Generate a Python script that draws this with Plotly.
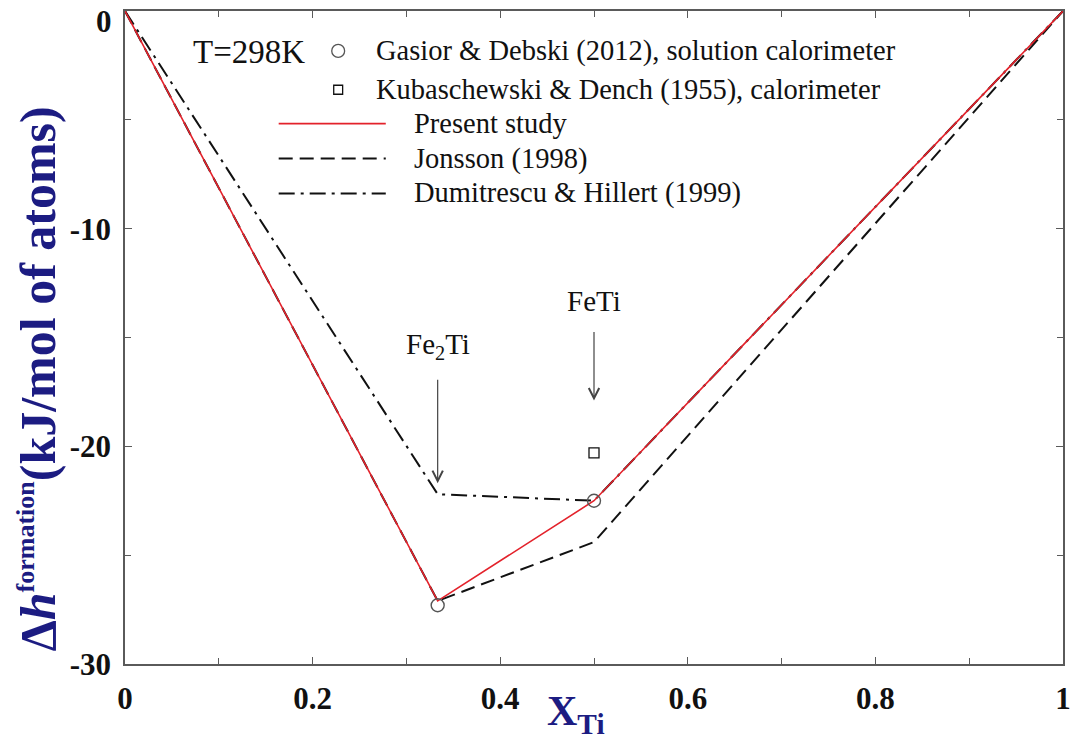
import plotly.graph_objects as go

# Enthalpy of formation of Fe-Ti alloys at 298 K
x_present = [0.0, 1/3, 0.5, 1.0]
h_present = [0.0, -27.1, -22.5, 0.0]

x_jonsson = [0.0, 1/3, 0.5, 1.0]
h_jonsson = [0.0, -27.1, -24.4, 0.0]

x_dh = [0.0, 1/3, 0.5, 1.0]
h_dh = [0.0, -22.2, -22.5, 0.0]

x_gasior = [1/3, 0.5]
h_gasior = [-27.3, -22.5]

x_kuba = [0.5]
h_kuba = [-20.3]

x_ticks = [0, 0.2, 0.4, 0.6, 0.8, 1.0]
x_ticktext = ["0", "0.2", "0.4", "0.6", "0.8", "1"]
y_ticks = [0, -10, -20, -30]
y_ticktext = ["0", "-10", "-20", "-30"]

compounds = ["Fe<sub>2</sub>Ti", "FeTi"]
compound_x = [1/3, 0.5]

SERIF = "Liberation Serif"
NAVY = "#1c1c82"
RED = "#e3222b"
INK = "#111111"
GREY = "#555555"
FRAME = "#5a5a5a"

# Layout geometry (pixels)
W, H = 1080, 742
ML, MR, MT, MB = 125, 9, 9, 78
PW, PH = W - ML - MR, H - MT - MB


def px(x):
    return (x - ML) / PW


def py(y):
    return (H - MB - y) / PH


fig = go.Figure()

fig.add_trace(go.Scatter(x=x_jonsson, y=h_jonsson, mode="lines",
                         line=dict(color=INK, width=2, dash="14px,7px"),
                         name="Jonsson (1998)"))
fig.add_trace(go.Scatter(x=x_dh, y=h_dh, mode="lines",
                         line=dict(color=INK, width=2, dash="16px,6px,3px,6px"),
                         name="Dumitrescu & Hillert (1999)"))
fig.add_trace(go.Scatter(x=x_present, y=h_present, mode="lines",
                         line=dict(color=RED, width=1.6),
                         name="Present study"))
fig.add_trace(go.Scatter(x=x_gasior, y=h_gasior, mode="markers",
                         marker=dict(symbol="circle-open", size=13,
                                     color=GREY, line=dict(width=1.4, color=GREY)),
                         name="Gasior & Debski (2012), solution calorimeter"))
fig.add_trace(go.Scatter(x=x_kuba, y=h_kuba, mode="markers",
                         marker=dict(symbol="square-open", size=10,
                                     color=INK, line=dict(width=1.3, color=INK)),
                         name="Kubaschewski & Dench (1955), calorimeter"))

annotations = []
shapes = []

# Phase labels, each with an arrow pointing at the compound composition
label_y = [-15.4, -13.3]
tip_y = [-21.7, -17.9]
for name, cx, ly, hy in zip(compounds, compound_x, label_y, tip_y):
    annotations.append(dict(x=cx, y=hy, ax=cx, ay=ly, xref="x", yref="y",
                            axref="x", ayref="y", text=name, showarrow=True,
                            arrowhead=5, arrowsize=1.7, arrowwidth=1.2,
                            arrowcolor="#444444", startstandoff=14,
                            font=dict(family=SERIF, size=29, color=INK)))

# Temperature label
annotations.append(dict(x=px(192), y=py(50), xref="paper", yref="paper",
                        text="T=298K", showarrow=False, xanchor="left",
                        yanchor="middle",
                        font=dict(family=SERIF, size=33, color=INK)))

# Key: symbol entries
key_rows = [
    ("circle", "Gasior & Debski (2012), solution calorimeter", 49, 13),
    ("square", "Kubaschewski & Dench (1955), calorimeter", 88, 9),
]
for kind, label, yy, sz in key_rows:
    r = sz / 2
    shapes.append(dict(type="circle" if kind == "circle" else "rect",
                       xref="paper", yref="paper",
                       x0=px(340 - r), x1=px(340 + r),
                       y0=py(yy + r), y1=py(yy - r),
                       line=dict(color=GREY if kind == "circle" else INK, width=1.3)))
    annotations.append(dict(x=px(376), y=py(yy), xref="paper", yref="paper",
                            text=label, showarrow=False, xanchor="left",
                            yanchor="middle",
                            font=dict(family=SERIF, size=28.5, color=INK)))

# Key: line entries
line_rows = [
    ("Present study", RED, 1.8, "solid", 122),
    ("Jonsson (1998)", INK, 2, "14px,7px", 157),
    ("Dumitrescu & Hillert (1999)", INK, 2, "16px,6px,3px,6px", 192),
]
for label, col, wd, dash, yy in line_rows:
    shapes.append(dict(type="line", xref="paper", yref="paper",
                       x0=px(280), x1=px(388), y0=py(yy), y1=py(yy),
                       line=dict(color=col, width=wd, dash=dash)))
    annotations.append(dict(x=px(414), y=py(yy), xref="paper", yref="paper",
                            text=label, showarrow=False, xanchor="left",
                            yanchor="middle",
                            font=dict(family=SERIF, size=28.5, color=INK)))

# Top y tick label sits just below the frame corner
annotations.append(dict(x=px(114), y=y_ticks[0], xref="paper", yref="y",
                        text="<b>%s</b>" % y_ticktext[0], showarrow=False,
                        xanchor="right", yanchor="top", yshift=9,
                        font=dict(family=SERIF, size=31, color=INK)))

# Axis titles
annotations.append(dict(x=px(37), y=py(378), xref="paper", yref="paper",
                        text="<b>Δ<i>h</i><sup><span style='font-size:26px'>formation</span></sup>(kJ/mol of atoms)</b>",
                        showarrow=False, textangle=-90,
                        xanchor="center", yanchor="middle",
                        font=dict(family=SERIF, size=50, color=NAVY)))
annotations.append(dict(x=px(580), y=py(714), xref="paper", yref="paper",
                        text="<b>X<sub>Ti</sub></b>", showarrow=False,
                        xanchor="center", yanchor="middle",
                        font=dict(family=SERIF, size=42, color=NAVY)))

axis_common = dict(showgrid=False, zeroline=False, showline=True,
                   linecolor=FRAME, linewidth=1.5, mirror="ticks",
                   ticks="inside", ticklen=7, tickwidth=1.2, tickcolor=FRAME,
                   ticklabelstandoff=6,
                   tickfont=dict(family=SERIF, size=31, color=INK,
                                 weight="bold"))

fig.update_layout(
    width=W, height=H,
    margin=dict(l=ML, r=MR, t=MT, b=MB),
    paper_bgcolor="white", plot_bgcolor="white",
    showlegend=False,
    xaxis=dict(range=[0, 1], tickvals=x_ticks, ticktext=x_ticktext,
               minor=dict(ticks="inside", ticklen=6, dtick=0.1,
                          tickcolor=FRAME, tickwidth=1.2),
               **axis_common),
    yaxis=dict(range=[-30, 0], tickvals=y_ticks[1:], ticktext=y_ticktext[1:],
               minor=dict(ticks="inside", ticklen=6, dtick=5,
                          tickcolor=FRAME, tickwidth=1.2),
               **axis_common),
    annotations=annotations,
    shapes=shapes,
)

fig.write_html("out.html")
